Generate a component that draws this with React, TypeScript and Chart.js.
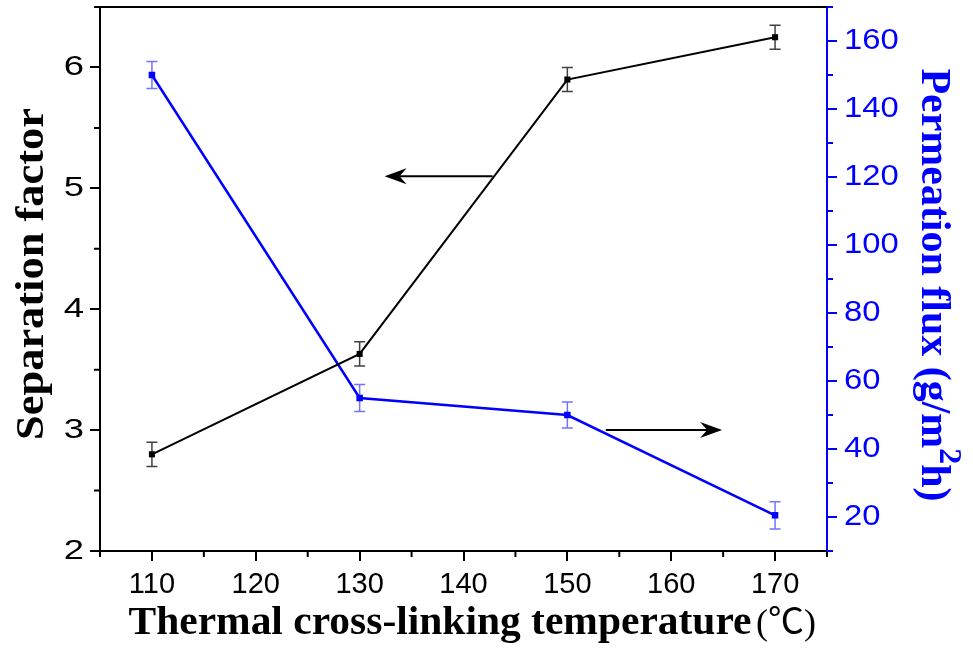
import { useEffect, useRef } from "react";
import { Chart, registerables } from "chart.js";

Chart.register(...registerables);

// ---- data ----
const TEMPERATURES = [110, 130, 150, 170];
const SEPARATION_FACTOR = [2.8, 3.63, 5.9, 6.25];
const SEPARATION_ERR = [0.1, 0.1, 0.1, 0.1];
const PERMEATION_FLUX = [150, 55, 50, 20.5];
const FLUX_ERR = [4, 4, 3.8, 4];

const X_TICKS = [110, 120, 130, 140, 150, 160, 170];
const X_MINOR = [105, 115, 125, 135, 145, 155, 165, 175];
const Y_LEFT_TICKS = [2, 3, 4, 5, 6];
const Y_LEFT_MINOR = [2.5, 3.5, 4.5, 5.5, 6.5];
const Y_RIGHT_TICKS = [20, 40, 60, 80, 100, 120, 140, 160];
const Y_RIGHT_MINOR = [10, 30, 50, 70, 90, 110, 130, 150, 170];

const X_RANGE = [105, 175];
const Y_LEFT_RANGE = [2, 6.5];
const Y_RIGHT_RANGE = [10, 170];

// annotation arrows (data units: x, left-axis y)
const ARROW_LEFT = { x1: 142.8, x2: 132.4, y: 5.1 };
const ARROW_RIGHT = { x1: 153.7, x2: 164.9, y: 3.0 };

const X_TITLE = "Thermal cross-linking temperature";
const X_TITLE_UNIT = "(℃)";
const Y_LEFT_TITLE = "Separation factor";
const Y_RIGHT_TITLE_PARTS = ["Permeation flux (g/m", "2", "h)"];

const BLUE = "#0000ff";
const BLACK = "#000000";
const TICK_FAMILY = '"Liberation Sans", Arial, sans-serif';

function drawArrow(ctx: CanvasRenderingContext2D, x1: number, y1: number, x2: number, y2: number) {
  const dir = Math.sign(x2 - x1);
  const headLen = 22;
  const halfW = 8;
  const notch = 7;
  ctx.save();
  ctx.strokeStyle = BLACK;
  ctx.fillStyle = BLACK;
  ctx.lineWidth = 2;
  ctx.beginPath();
  ctx.moveTo(x1, y1);
  ctx.lineTo(x2 - dir * (headLen - notch), y2);
  ctx.stroke();
  ctx.beginPath();
  ctx.moveTo(x2, y2);
  ctx.lineTo(x2 - dir * headLen, y2 - halfW);
  ctx.lineTo(x2 - dir * (headLen - notch), y2);
  ctx.lineTo(x2 - dir * headLen, y2 + halfW);
  ctx.closePath();
  ctx.fill();
  ctx.restore();
}

function drawStretched(
  ctx: CanvasRenderingContext2D,
  text: string,
  x: number,
  y: number,
  sx: number,
  align: CanvasTextAlign,
  baseline: CanvasTextBaseline
) {
  ctx.save();
  ctx.translate(x, y);
  ctx.scale(sx, 1);
  ctx.textAlign = align;
  ctx.textBaseline = baseline;
  ctx.fillText(text, 0, 0);
  ctx.restore();
}

const decorPlugin = {
  id: "decor",
  beforeDatasetsDraw(chart: any) {
    const ctx = chart.ctx as CanvasRenderingContext2D;
    const xs = chart.scales.x;
    const sets = [
      { scale: chart.scales.y, vals: SEPARATION_FACTOR, errs: SEPARATION_ERR, color: "rgba(0,0,0,0.75)" },
      { scale: chart.scales.y1, vals: PERMEATION_FLUX, errs: FLUX_ERR, color: "rgba(40,40,255,0.65)" },
    ];
    ctx.save();
    ctx.lineWidth = 1.5;
    for (const s of sets) {
      ctx.strokeStyle = s.color;
      TEMPERATURES.forEach((t, i) => {
        const x = xs.getPixelForValue(t);
        const yt = s.scale.getPixelForValue(s.vals[i] + s.errs[i]);
        const yb = s.scale.getPixelForValue(s.vals[i] - s.errs[i]);
        ctx.beginPath();
        ctx.moveTo(x, yt);
        ctx.lineTo(x, yb);
        ctx.moveTo(x - 5.5, yt);
        ctx.lineTo(x + 5.5, yt);
        ctx.moveTo(x - 5.5, yb);
        ctx.lineTo(x + 5.5, yb);
        ctx.stroke();
      });
    }
    ctx.restore();
  },
  afterDraw(chart: any) {
    const ctx = chart.ctx as CanvasRenderingContext2D;
    const { left, right, top, bottom } = chart.chartArea;
    const xs = chart.scales.x;
    const yl = chart.scales.y;
    const yr = chart.scales.y1;
    ctx.save();
    // top frame line
    ctx.strokeStyle = BLACK;
    ctx.lineWidth = 2;
    ctx.beginPath();
    ctx.moveTo(left - 1, top);
    ctx.lineTo(right, top);
    ctx.stroke();
    // minor ticks
    const minor = 6;
    ctx.beginPath();
    X_MINOR.forEach((v) => {
      const x = xs.getPixelForValue(v);
      ctx.moveTo(x, bottom);
      ctx.lineTo(x, bottom + minor);
    });
    Y_LEFT_MINOR.forEach((v) => {
      const y = yl.getPixelForValue(v);
      ctx.moveTo(left, y);
      ctx.lineTo(left - minor, y);
    });
    ctx.stroke();
    ctx.strokeStyle = BLUE;
    ctx.beginPath();
    Y_RIGHT_MINOR.forEach((v) => {
      const y = yr.getPixelForValue(v);
      ctx.moveTo(right, y);
      ctx.lineTo(right + minor, y);
    });
    ctx.stroke();

    // tick labels
    ctx.fillStyle = BLACK;
    ctx.font = `29px ${TICK_FAMILY}`;
    X_TICKS.forEach((v) => drawStretched(ctx, String(v), xs.getPixelForValue(v), 593, 1.0, "center", "alphabetic"));
    ctx.font = `28px ${TICK_FAMILY}`;
    Y_LEFT_TICKS.forEach((v) => drawStretched(ctx, String(v), left - 16, yl.getPixelForValue(v), 1.3, "right", "middle"));
    ctx.fillStyle = BLUE;
    ctx.font = `29px ${TICK_FAMILY}`;
    Y_RIGHT_TICKS.forEach((v) => drawStretched(ctx, String(v), right + 17, yr.getPixelForValue(v), 1.13, "left", "middle"));

    // arrows
    drawArrow(ctx, xs.getPixelForValue(ARROW_LEFT.x1), yl.getPixelForValue(ARROW_LEFT.y), xs.getPixelForValue(ARROW_LEFT.x2), yl.getPixelForValue(ARROW_LEFT.y));
    drawArrow(ctx, xs.getPixelForValue(ARROW_RIGHT.x1), yl.getPixelForValue(ARROW_RIGHT.y), xs.getPixelForValue(ARROW_RIGHT.x2), yl.getPixelForValue(ARROW_RIGHT.y));

    // x title
    ctx.fillStyle = BLACK;
    ctx.textBaseline = "alphabetic";
    ctx.textAlign = "left";
    ctx.font = 'bold 41px "Liberation Serif"';
    {
      const w = ctx.measureText(X_TITLE).width;
      const target = 623;
      ctx.save();
      ctx.translate(128.5, 634);
      ctx.scale(target / w, 1);
      ctx.fillText(X_TITLE, 0, 0);
      ctx.restore();
      ctx.font = '36px "Liberation Serif", "Noto Sans CJK SC"';
      const w2 = ctx.measureText(X_TITLE_UNIT).width;
      ctx.save();
      ctx.translate(756, 634);
      ctx.scale(60 / w2, 1);
      ctx.fillText(X_TITLE_UNIT, 0, 0);
      ctx.restore();
    }
    // left title
    ctx.font = 'bold 39px "Liberation Serif"';
    {
      const w = ctx.measureText(Y_LEFT_TITLE).width;
      const target = 332;
      ctx.save();
      ctx.translate(43, 274);
      ctx.rotate(-Math.PI / 2);
      ctx.scale(target / w, 1);
      ctx.textAlign = "center";
      ctx.fillText(Y_LEFT_TITLE, 0, 0);
      ctx.restore();
    }
    // right title
    ctx.fillStyle = BLUE;
    {
      const F = 42;
      const main = `bold ${F}px "Liberation Serif"`;
      const sup = `bold ${Math.round(F * 0.75)}px "Liberation Serif"`;
      ctx.font = main;
      const w1 = ctx.measureText(Y_RIGHT_TITLE_PARTS[0]).width;
      const w3 = ctx.measureText(Y_RIGHT_TITLE_PARTS[2]).width;
      ctx.font = sup;
      const w2 = ctx.measureText(Y_RIGHT_TITLE_PARTS[1]).width;
      const L = w1 + w2 + w3;
      const target = 433;
      ctx.save();
      ctx.translate(922, 285);
      ctx.rotate(Math.PI / 2);
      ctx.scale(target / L, 1);
      ctx.textAlign = "left";
      let x = -L / 2;
      ctx.font = main;
      ctx.fillText(Y_RIGHT_TITLE_PARTS[0], x, 0);
      x += w1;
      ctx.font = sup;
      ctx.fillText(Y_RIGHT_TITLE_PARTS[1], x, -F * 0.42);
      x += w2;
      ctx.font = main;
      ctx.fillText(Y_RIGHT_TITLE_PARTS[2], x, 0);
      ctx.restore();
    }
    ctx.restore();
  },
};

export default function App() {
  const ref = useRef<HTMLCanvasElement | null>(null);
  useEffect(() => {
    document.body.style.margin = "0";
    document.body.style.overflow = "hidden";
    const canvas = ref.current;
    if (!canvas) return;
    const chart = new Chart(canvas, {
      type: "line",
      data: {
        datasets: [
          {
            label: "Separation factor",
            data: TEMPERATURES.map((t, i) => ({ x: t, y: SEPARATION_FACTOR[i] })),
            yAxisID: "y",
            borderColor: BLACK,
            backgroundColor: BLACK,
            borderWidth: 2,
            pointStyle: "rect",
            pointRadius: 4.3,
            pointBorderWidth: 0,
            tension: 0,
          },
          {
            label: "Permeation flux",
            data: TEMPERATURES.map((t, i) => ({ x: t, y: PERMEATION_FLUX[i] })),
            yAxisID: "y1",
            borderColor: BLUE,
            backgroundColor: BLUE,
            borderWidth: 2.5,
            pointStyle: "rect",
            pointRadius: 4.6,
            pointBorderWidth: 0,
            tension: 0,
          },
        ],
      },
      options: {
        animation: false,
        responsive: false,
        devicePixelRatio: 1,
        layout: { padding: { top: 7, left: 0, right: 0, bottom: 0 } },
        plugins: { legend: { display: false }, tooltip: { enabled: false } },
        scales: {
          x: {
            type: "linear",
            position: "bottom",
            min: X_RANGE[0],
            max: X_RANGE[1],
            afterBuildTicks: (s: any) => {
              s.ticks = X_TICKS.map((value) => ({ value }));
            },
            afterFit: (s: any) => {
              s.height = 100;
              s.paddingLeft = 0;
              s.paddingRight = 0;
            },
            grid: { display: true, drawOnChartArea: false, drawTicks: true, tickLength: 10, lineWidth: 2, color: BLACK },
            border: { display: true, color: BLACK, width: 2 },
            ticks: { display: false },
          },
          y: {
            type: "linear",
            position: "left",
            min: Y_LEFT_RANGE[0],
            max: Y_LEFT_RANGE[1],
            afterBuildTicks: (s: any) => {
              s.ticks = Y_LEFT_TICKS.map((value) => ({ value }));
            },
            afterFit: (s: any) => {
              s.width = 100;
              s.paddingTop = 0;
              s.paddingBottom = 0;
            },
            grid: { display: true, drawOnChartArea: false, drawTicks: true, tickLength: 10, lineWidth: 2, color: BLACK },
            border: { display: true, color: BLACK, width: 2 },
            ticks: { display: false },
          },
          y1: {
            type: "linear",
            position: "right",
            min: Y_RIGHT_RANGE[0],
            max: Y_RIGHT_RANGE[1],
            afterBuildTicks: (s: any) => {
              s.ticks = Y_RIGHT_TICKS.map((value) => ({ value }));
            },
            afterFit: (s: any) => {
              s.width = 146;
              s.paddingTop = 0;
              s.paddingBottom = 0;
            },
            grid: { display: true, drawOnChartArea: false, drawTicks: true, tickLength: 10, lineWidth: 2, color: BLUE },
            border: { display: true, color: BLUE, width: 2 },
            ticks: { display: false },
          },
        },
      },
      plugins: [decorPlugin],
    });
    return () => chart.destroy();
  }, []);
  return (
    <div style={{ width: 973, height: 651 }}>
      <canvas ref={ref} width={973} height={651} style={{ display: "block" }} />
    </div>
  );
}
